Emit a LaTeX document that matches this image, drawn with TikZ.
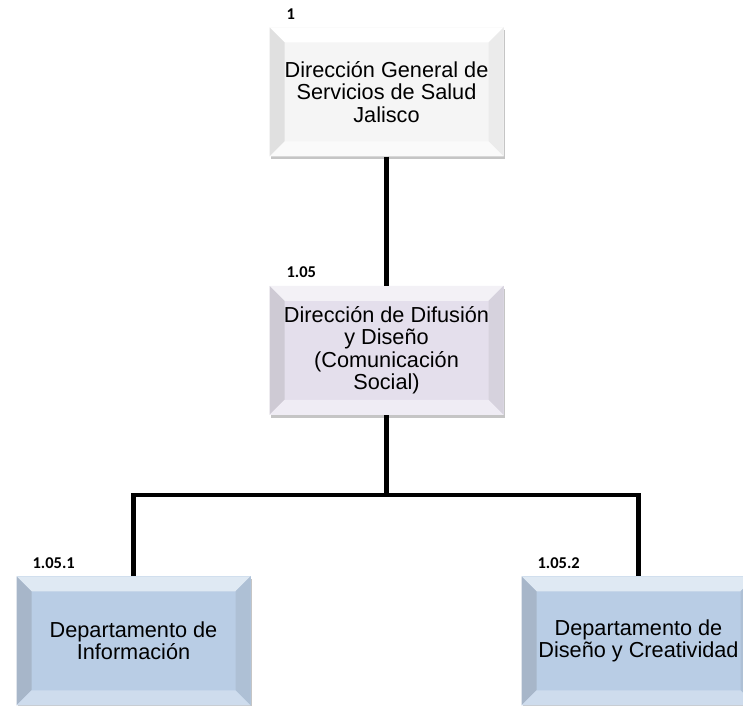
\documentclass[tikz,border=0pt]{standalone}
\usepackage{fontspec}
\setmainfont{Liberation Sans}
\newfontfamily\numfont{Carlito}
\usetikzlibrary{positioning, shadows}

\definecolor{greyface}{HTML}{F5F5F5}
\definecolor{lilacface}{HTML}{E4DFEC}
\definecolor{blueface}{HTML}{B9CDE5}

\tikzset{
  unit/.style n args={5}{fill=#1, minimum width=234pt, minimum height=129pt, inner sep=0pt, align=center,
    font=\fontsize{21.7}{22.5}\selectfont,
    drop shadow={shadow xshift=1pt, shadow yshift=-3pt, fill=black!45, opacity=.5},
    path picture={
      \coordinate (nw) at (path picture bounding box.north west);
      \coordinate (ne) at (path picture bounding box.north east);
      \coordinate (sw) at (path picture bounding box.south west);
      \coordinate (se) at (path picture bounding box.south east);
      \fill[#2] (nw) -- (ne) -- ([shift={(-15pt,-15pt)}]ne) -- ([shift={(15pt,-15pt)}]nw) -- cycle;
      \fill[#3] (nw) -- (sw) -- ([shift={(15pt,15pt)}]sw) -- ([shift={(15pt,-15pt)}]nw) -- cycle;
      \fill[#4] (ne) -- (se) -- ([shift={(-15pt,15pt)}]se) -- ([shift={(-15pt,-15pt)}]ne) -- cycle;
      \fill[#5] (sw) -- (se) -- ([shift={(-15pt,15pt)}]se) -- ([shift={(15pt,15pt)}]sw) -- cycle;
    }},
  num/.style={font=\numfont\bfseries\fontsize{16.5}{16.5}\selectfont, anchor=base west, inner sep=0pt},
  link/.style={line width=4.5pt, black}
}

\begin{document}
\begin{tikzpicture}[x=1pt, y=1pt]
     \clip (0,0) rectangle (743,705);

     \node[unit={greyface}{white}{black!12}{black!8}{black!2}]   (dirgen) at (386.5,613) {Dirección General de\\Servicios de Salud\\Jalisco};
     \node[unit={lilacface}{lilacface!45!white}{lilacface!88!black!90}{lilacface!93!black!95}{lilacface!60!white}]   (difusion) [below=129pt of dirgen] {Dirección de Difusión\\y Diseño\\(Comunicación\\Social)};
     \node[unit={blueface}{blueface!45!white}{blueface!85!black!90}{blueface!92!black!95}{blueface!70!white}]   (informacion) [below=161pt of difusion, xshift=-253pt] {Departamento de\\Información};
     \node[unit={blueface}{blueface!45!white}{blueface!85!black!90}{blueface!92!black!95}{blueface!70!white}]   (creatividad) [below=161pt of difusion, xshift=252pt] {Departamento de\\Diseño y Creatividad};

     \node[num] (n1)    at ([shift={(17pt,8pt)}]dirgen.north west)      {1};
     \node[num] (n105)  at ([shift={(17pt,8pt)}]difusion.north west)    {1.05};
     \node[num] (n1051) at ([shift={(16pt,8pt)}]informacion.north west) {1.05.1};
     \node[num] (n1052) at ([shift={(16pt,8pt)}]creatividad.north west) {1.05.2};

     \coordinate (bus) at ([yshift=-80pt]difusion.south);

     \draw[link] (dirgen) -- (difusion);
     \draw[link] (difusion) -- (bus);
     \draw[link] (informacion) |- (bus) -| (creatividad);
\end{tikzpicture}
\end{document}
